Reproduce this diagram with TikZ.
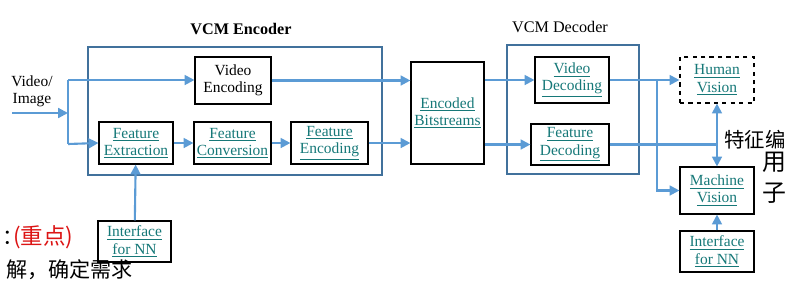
\documentclass[tikz,border=0pt]{standalone}
\usepackage{fontspec}
\setmainfont{Liberation Serif}
\newfontfamily\cjk{Noto Sans CJK SC}
\usetikzlibrary{arrows.meta}

\definecolor{flowblue}{RGB}{91,155,213}
\definecolor{framblue}{RGB}{65,113,156}
\definecolor{linkteal}{RGB}{22,120,120}
\definecolor{penred}{RGB}{220,20,20}

% underlined link-style label
\newcommand{\lnk}[1]{{\color{linkteal}\underline{#1}}}

\begin{document}
\begin{tikzpicture}[x=0.025cm,y=-0.025cm,
    font=\rmfamily\fontsize{11}{12.2}\selectfont,
    block/.style={draw,line width=0.8pt,align=center,inner sep=0pt},
    frame/.style={draw=framblue,line width=1.6pt,inner sep=0pt},
    flow/.style={draw=flowblue,line width=1.5pt,-{Triangle[length=7pt,width=7pt]}},
    pipe/.style={draw=flowblue,line width=1.5pt},
    pen/.style={font=\cjk\fontsize{15}{15}\selectfont,inner sep=0pt}]
    \useasboundingbox (0,0) rectangle (792,286);

    % encoder side
    \node[frame,minimum width=294*0.025cm,minimum height=128*0.025cm] (encbox) at (235,111) {};
    \node[font=\rmfamily\fontsize{11.5}{12}\selectfont\bfseries] (enctitle) at (241,29) {VCM Encoder};

    \node[block,minimum width=76*0.025cm,minimum height=47*0.025cm] (venc) at (233,80.5) {Video\\Encoding};
    \node[block,minimum width=74*0.025cm,minimum height=42*0.025cm] (fext) at (136,143) {\lnk{Feature}\\\lnk{Extraction}};
    \node[block,minimum width=77*0.025cm,minimum height=42*0.025cm] (fconv) at (232.5,143) {\lnk{Feature}\\\lnk{Conversion}};
    \node[block,minimum width=77*0.025cm,minimum height=42*0.025cm] (fenc) at (329.5,143) {\lnk{Feature}\\\lnk{Encoding}};
    \node[block,minimum width=73*0.025cm,minimum height=41*0.025cm] (nnl) at (134.5,241.5) {\lnk{Interface}\\\lnk{for NN}};

    % bitstreams
    \node[block,minimum width=73*0.025cm,minimum height=102*0.025cm] (bits) at (447.5,113) {\lnk{Encoded}\\\lnk{Bitstreams}};

    % decoder side
    \node[frame,minimum width=132*0.025cm,minimum height=129*0.025cm] (decbox) at (573,109.5) {};
    \node[font=\rmfamily\fontsize{11.5}{12}\selectfont] (dectitle) at (560,27) {VCM Decoder};

    \node[block,minimum width=74*0.025cm,minimum height=46*0.025cm] (vdec) at (572,80) {\lnk{Video}\\\lnk{Decoding}};
    \node[block,minimum width=78*0.025cm,minimum height=41*0.025cm] (fdec) at (570,144.5) {\lnk{Feature}\\\lnk{Decoding}};

    \node[block,dashed,minimum width=74*0.025cm,minimum height=46*0.025cm] (human) at (717,80) {\lnk{Human}\\\lnk{Vision}};
    \node[block,minimum width=74*0.025cm,minimum height=47*0.025cm] (machine) at (717,190.5) {\lnk{Machine}\\\lnk{Vision}};
    \node[block,minimum width=74*0.025cm,minimum height=41*0.025cm] (nnr) at (717,251.5) {\lnk{Interface}\\\lnk{for NN}};

    % input
    \node[align=center,inner sep=0pt] (src) at (32,91) {Video/\\Image};
    \coordinate (in) at (12,113);
    \coordinate (split) at (68,113);
    \coordinate (splittop) at (68,80);
    \coordinate (splitbot) at (68,144);

    \draw[flow] (in) -- (split);
    \draw[pipe] (splittop) -- (splitbot);
    \draw[flow] (splittop) -- (splittop -| venc.west);
    \draw[flow] (splitbot) -- (fext.west);
    \draw[flow] (fext) -- (fconv);
    \draw[flow] (fconv) -- (fenc);
    \draw[flow] (nnl) -- (fext);

    \draw[flow] (venc.east) -- (venc.east -| bits.west);
    \draw[flow] (fenc.east) -- (fenc.east -| bits.west);
    \draw[flow] (bits.east |- vdec.west) -- (vdec.west);
    \draw[flow] (bits.east |- fdec.west) -- (fdec.west);

    % outputs
    \coordinate (tap) at (657,80);
    \draw[flow] (vdec.east) -- (human.west);
    \draw[flow] (tap) |- (machine.west);
    \draw[pipe] (fdec.east) -- (fdec.east -| human.south);
    \draw[flow,{Triangle[length=7pt,width=7pt]}-{Triangle[length=7pt,width=7pt]}] (human) -- (machine);
    \draw[flow] (nnr) -- (machine);

    % pen notes
    \node[pen,anchor=west] (noteA) at (2,238) {：};
    \node[pen,anchor=west,text=penred,font=\cjk\fontsize{16}{16}\selectfont] (noteB) at (13,237) {(重点)};
    \node[pen,anchor=west] (noteC) at (6,270) {解，确定需求};
    \node[pen,anchor=west,font=\cjk\fontsize{14.5}{15}\selectfont] (noteD) at (724,140) {特征编};
    \node[pen,anchor=west,font=\cjk\fontsize{17}{17}\selectfont] (noteE) at (762,162) {用};
    \node[pen,anchor=west,font=\cjk\fontsize{17}{17}\selectfont] (noteF) at (762,193) {子};
\end{tikzpicture}
\end{document}
